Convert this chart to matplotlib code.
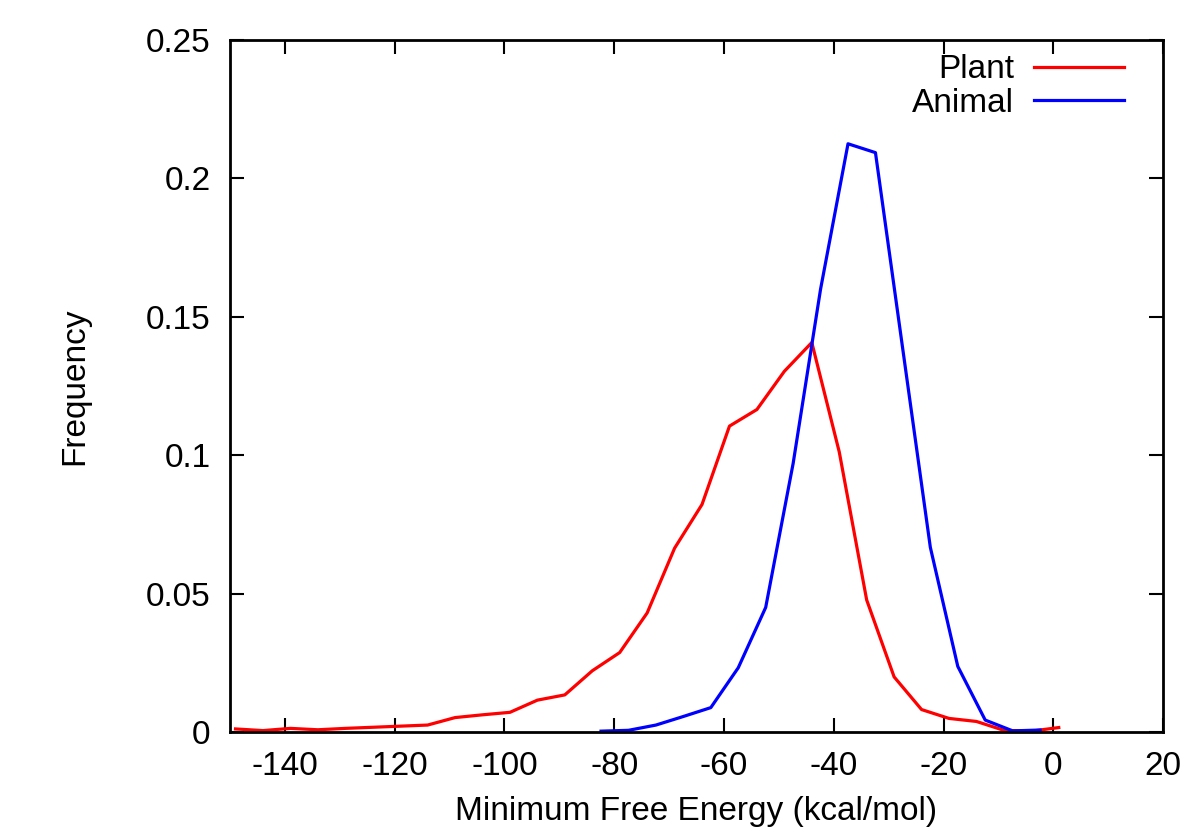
"""
plot.py — Minimum free energy distribution (Plant vs Animal)
"""
import numpy as np
import matplotlib
matplotlib.use('Agg')  # non-interactive
import matplotlib.pyplot as plt
from matplotlib.ticker import MultipleLocator, FuncFormatter

plt.rcParams['font.family'] = ['Liberation Sans', 'DejaVu Sans']
plt.rcParams['axes.unicode_minus'] = False

# ---------- data ----------
plant_mfe = [-149, -144, -139, -134, -129, -124, -119, -114, -109, -104,
             -99, -94, -89, -84, -79, -74, -69, -64, -59, -54,
             -49, -44, -39, -34, -29, -24, -19, -14, -9, -4, 1]
plant_freq = [0.0011, 0.0005, 0.0013, 0.0008, 0.0013, 0.0017, 0.0021, 0.0025, 0.0052, 0.0062,
              0.0071, 0.0115, 0.0134, 0.0221, 0.0287, 0.0430, 0.0664, 0.0822, 0.1105, 0.1165,
              0.1303, 0.1407, 0.1012, 0.0477, 0.0199, 0.0081, 0.0049, 0.0038, 0.0006, 0.0003, 0.0016]

animal_mfe = [-82.4, -77.4, -72.4, -67.4, -62.4, -57.4, -52.4, -47.4, -42.4,
              -37.4, -32.4, -27.4, -22.4, -17.4, -12.4, -7.4, -2.4]
animal_freq = [0.0003, 0.0006, 0.0025, 0.0056, 0.0088, 0.0232, 0.0450, 0.0970, 0.1600,
               0.2125, 0.2093, 0.1380, 0.0667, 0.0237, 0.0043, 0.0004, 0.0007]

XLIM = (-150, 20)
YLIM = (0, 0.25)


def main():
    fig = plt.figure(figsize=(12, 8.4), dpi=100)
    ax = fig.add_axes([0.1917, 0.1286, 0.7775, 0.8238])

    ax.plot(plant_mfe, plant_freq, color='#ff0000', linewidth=2.3, label='Plant')
    ax.plot(animal_mfe, animal_freq, color='#0000ff', linewidth=2.3, label='Animal')

    ax.set_xlim(*XLIM)
    ax.set_ylim(*YLIM)
    ax.xaxis.set_major_locator(MultipleLocator(20))
    ax.yaxis.set_major_locator(MultipleLocator(0.05))
    ax.yaxis.set_major_formatter(FuncFormatter(lambda v, p: f"{v:g}"))
    ax.tick_params(direction='in', length=10, width=1.5, top=True, right=True,
                   labelsize=24, pad=14)
    for s in ax.spines.values():
        s.set_linewidth(2)

    ax.set_xlabel('Minimum Free Energy (kcal/mol)', fontsize=24, labelpad=10)
    ax.set_ylabel('Frequency', fontsize=24, labelpad=40)

    leg = ax.legend(loc='upper right', fontsize=24, frameon=False, markerfirst=False,
                    handlelength=2.7, handletextpad=0.6, labelspacing=0.08,
                    borderaxespad=0.3, bbox_to_anchor=(0.983, 1.013))
    for t in leg.get_texts():
        t.set_ha('right')

    fig.savefig('out.png', dpi=100)
    plt.close(fig)


if __name__ == "__main__":
    main()
